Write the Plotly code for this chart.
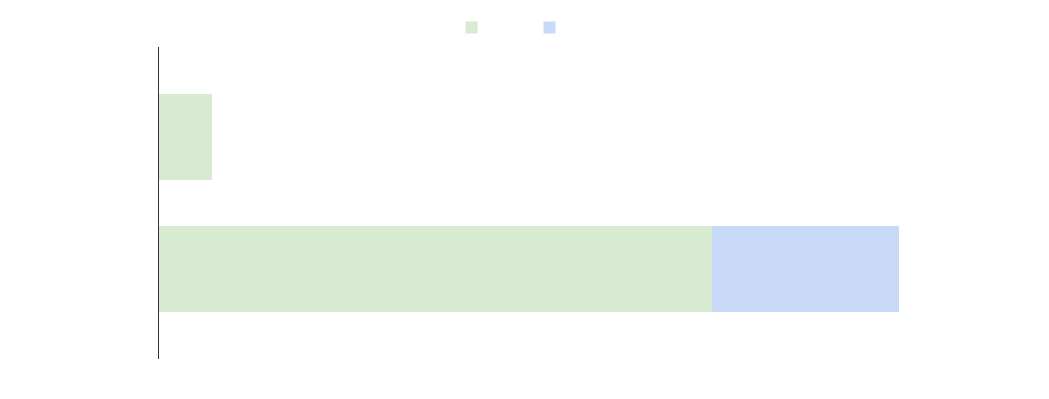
import plotly.graph_objects as go

categories = ["A", "B"]
series1 = [2.0, 21.0]
series2 = [0.0, 7.1]

fig = go.Figure()
fig.add_trace(go.Bar(y=categories, x=series1, orientation="h", name="",
                     marker=dict(color="#d9ead3", line=dict(width=0))))
fig.add_trace(go.Bar(y=categories, x=series2, orientation="h", name="",
                     marker=dict(color="#c9daf8", line=dict(width=0))))

fig.update_layout(
    barmode="stack",
    bargap=0.35,
    width=1049, height=399,
    margin=dict(l=159, r=110, t=47, b=40),
    plot_bgcolor="white", paper_bgcolor="white",
    showlegend=True,
    legend=dict(orientation="h", x=0.475, xanchor="center", y=1.016, yanchor="bottom",
                entrywidth=33, entrywidthmode="pixels", traceorder="normal",
                font=dict(size=12, color="#222")),
    xaxis=dict(range=[0, 29.6], showgrid=False, zeroline=False, showline=False,
               showticklabels=False, ticks=""),
    yaxis=dict(categoryorder="array", categoryarray=categories, range=[1.68, -0.68],
               showgrid=False, zeroline=False, showline=True, linecolor="#333333",
               linewidth=1, showticklabels=False, ticks=""),
)

fig.write_html("out.html")
